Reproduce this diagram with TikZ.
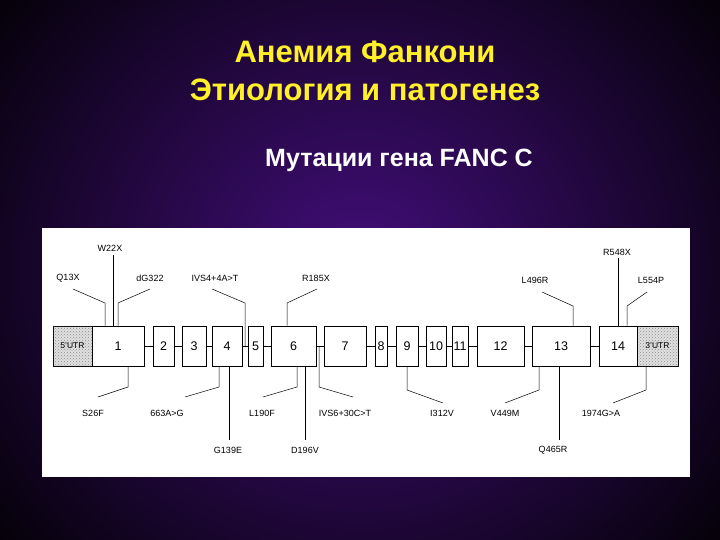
\documentclass[tikz,border=0pt]{standalone}
\usepackage{fontspec}
\setmainfont{Liberation Sans}
\usetikzlibrary{patterns}
\begin{document}
\begin{tikzpicture}[x=1pt,y=-1pt,
  ex/.style={draw,line width=0.6pt,minimum height=40pt,inner sep=0pt,font=\fontsize{12.5}{14}\selectfont},
  utr/.style={ex,fill=black!12,postaction={pattern=crosshatch dots,pattern color=black!45},font=\fontsize{8.5}{10}\selectfont},
  lab/.style={font=\fontsize{9}{10}\selectfont,inner sep=0pt},
  mut/.style={line width=0.5pt}]
\useasboundingbox (0,0) rectangle (720,540);
\begin{scope}
\clip (0,0) rectangle (720,540);
\shade[inner color={rgb,255:red,66;green,14;blue,122},outer color=black] (-140,-200) rectangle (860,740);
\end{scope}
\node[font=\bfseries\fontsize{31}{38}\selectfont,text={rgb,255:red,255;green,240;blue,40},align=center] (t) at (365,71) {Анемия Фанкони\\Этиология и патогенез};
\node[font=\bfseries\fontsize{25}{28}\selectfont,text=white] (st) at (399,160) {Мутации гена FANC C};
\fill[white] (42,228) rectangle (690,477);
\node[utr,minimum width=39pt] (u5) at (72.5,346) {5'UTR};
\node[utr,minimum width=41pt] (u3) at (657.5,346) {3'UTR};
\foreach \n/\a/\b/\t in {e1/92/144/1,e2/153/174/2,e3/182/206/3,e4/212/242/4,e5/248/263/5,e6/271/316/6,e7/324/366/7,e8/375/387/8,e9/396/418/9,e10/426/446/10,e11/452/468/11,e12/477/524/12,e13/532/590/13,e14/599/637/14}{
  \pgfmathsetmacro\w{\b-\a}\pgfmathsetmacro\c{(\a+\b)/2}
  \node[ex,minimum width=\w pt] (\n) at (\c,346) {\t};}
\draw[line width=1pt] (u5.north east)--(u5.south east);
\foreach \p/\q in {e1/e2,e2/e3,e3/e4,e4/e5,e5/e6,e6/e7,e7/e8,e8/e9,e9/e10,e10/e11,e11/e12,e12/e13,e13/e14}
  \draw[mut] (\p.east)--(\q.west);
\node[lab] (m1) at (68,278) {Q13X};
\node[lab] (m2) at (110,248) {W22X};
\node[lab] (m3) at (150,278) {dG322};
\node[lab] (m4) at (215,278) {IVS4+4A>T};
\node[lab] (m5) at (316,278) {R185X};
\node[lab] (m6) at (93,413) {S26F};
\node[lab] (m7) at (167,413) {663A>G};
\node[lab] (m8) at (228,450) {G139E};
\node[lab] (m9) at (262,413) {L190F};
\node[lab] (m10) at (345,413) {IVS6+30C>T};
\node[lab] (m11) at (305,450) {D196V};
\node[lab] (m12) at (442,413) {I312V};
\node[lab] (m13) at (505,413) {V449M};
\node[lab] (m14) at (553,450) {Q465R};
\node[lab] (m15) at (601,413) {1974G>A};
\node[lab] (m16) at (535,280) {L496R};
\node[lab] (m17) at (617,252) {R548X};
\node[lab] (m18) at (651,280) {L554P};
\draw[mut] (73,289)--(105,303)--(105,303 |- e1.north);
\draw[mut] (113,255)--(113,255 |- e1.north);
\draw[mut] (150,289)--(118,303)--(118,303 |- e1.north);
\draw[mut] (212,289)--(245,303)--(245,347);
\draw[mut] (317,289)--(287,303)--(287,303 |- e6.north);
\draw[mut] (128,366 |- e1.south)--(128,387)--(98,397);
\draw[mut] (219,366 |- e4.south)--(219,387)--(185,397);
\draw[mut] (229,366 |- e4.south)--(229,440);
\draw[mut] (297,366 |- e6.south)--(297,387)--(263,397);
\draw[mut] (305,366 |- e6.south)--(305,440);
\draw[mut] (319,347)--(319,387)--(353,397);
\draw[mut] (407,366 |- e9.south)--(407,390)--(443,403);
\draw[mut] (539,366 |- e13.south)--(539,390)--(505,403);
\draw[mut] (559,366 |- e13.south)--(559,440);
\draw[mut] (646,366 |- u3.south)--(646,390)--(613,403);
\draw[mut] (542,292)--(573,306)--(573,306 |- e13.north);
\draw[mut] (618,258)--(618,258 |- e14.north);
\draw[mut] (647,292)--(627,306)--(627,306 |- e14.north);
\end{tikzpicture}
\end{document}
